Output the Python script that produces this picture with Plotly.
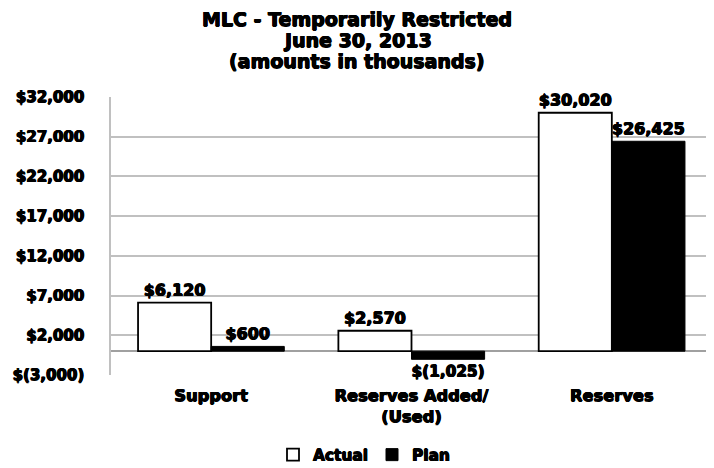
import plotly.graph_objects as go

categories = ["Support", "Reserves Added/<br>(Used)", "Reserves"]
actual = [6120, 2570, 30020]
plan = [600, -1025, 26425]
tick_vals = [-3000, 2000, 7000, 12000, 17000, 22000, 27000, 32000]
title_lines = ["MLC - Temporarily Restricted", "June 30, 2013", "(amounts in thousands)"]


def money(v):
    if v < 0:
        return "$({:,})".format(-v)
    return "${:,}".format(v)


FONT = "DejaVu Sans, sans-serif"
W = "bold"
SH = "0.6px 0 0 black, -0.6px 0 0 black, 0 0.5px 0 black, 0 -0.3px 0 black"


def f(size):
    return dict(family=FONT, size=size, color="black", weight=W, shadow=SH)


fig = go.Figure()
fig.add_trace(go.Bar(
    name="Actual", x=categories, y=actual,
    marker=dict(color="white", line=dict(color="black", width=1.8)),
    text=[money(v) for v in actual], textposition="outside",
    textfont=f(16), cliponaxis=False,
))
fig.add_trace(go.Bar(
    name="Plan", x=categories, y=plan,
    marker=dict(color="black", line=dict(color="black", width=1)),
    text=[money(v) for v in plan], textposition="outside",
    textfont=f(16), cliponaxis=False,
))

for line, shift in zip(title_lines, [78, 57, 36]):
    fig.add_annotation(
        text=line, xref="paper", yref="paper",
        x=(349 - 103) / 601, y=1, yshift=shift, xanchor="center", yanchor="middle",
        showarrow=False, align="center", font=f(19), borderpad=0,
    )

fig.update_layout(
    width=706, height=460,
    paper_bgcolor="white", plot_bgcolor="white",
    barmode="group", bargap=0.27, bargroupgap=0,
    margin=dict(l=103, r=2, t=89, b=93, autoexpand=False),
    font=dict(family=FONT, color="black"),
    legend=dict(
        orientation="h", xref="paper", x=(265 - 103) / 601, xanchor="left",
        yref="container", y=0.028, yanchor="middle",
        font=f(15.4), itemwidth=30, entrywidth=54,
    ),
)
fig.update_yaxes(
    range=[-3000, 32000], tickvals=tick_vals,
    ticktext=[money(v) for v in tick_vals],
    showgrid=True, gridcolor="#c0c0c0", gridwidth=1.5,
    zeroline=True, zerolinecolor="#a0a0a0", zerolinewidth=2,
    showline=True, linecolor="#c0c0c0", linewidth=1.5,
    tickfont=f(15), ticks="", ticklabelstandoff=22,
)
fig.update_xaxes(
    showline=False, ticks="", ticklabelstandoff=9,
    tickfont=f(16.3),
)

fig.write_html("out.html")
